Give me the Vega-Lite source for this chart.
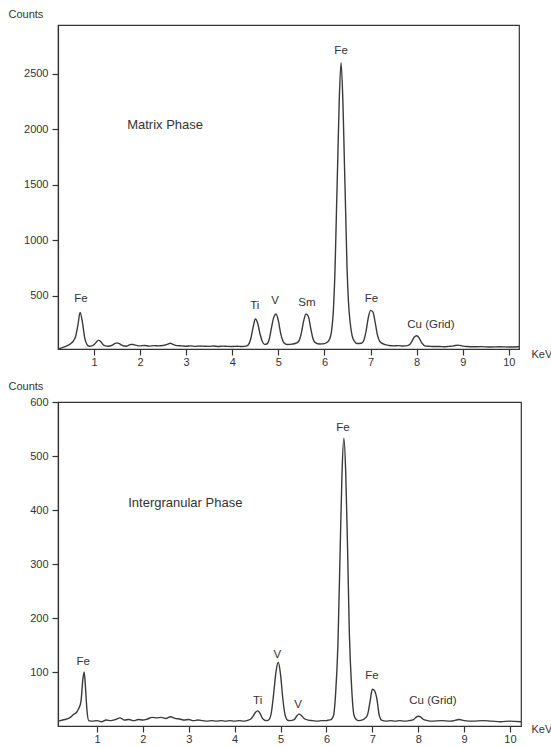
{
  "$schema": "https://vega.github.io/schema/vega-lite/v6.json",
  "background": "white",
  "padding": {"left": 7, "top": 7, "right": 0, "bottom": 0},
  "spacing": 11,
  "config": {
    "font": "Liberation Sans",
    "view": {"stroke": "#333", "strokeWidth": 1.2},
    "axis": {
      "domainColor": "#333", "tickColor": "#333", "tickSize": 6, "tickWidth": 1.2, "domainWidth": 1.2,
      "labelColor": "#333", "labelFontSize": 11, "labelFont": "Liberation Sans",
      "titleColor": "#333", "titleFontSize": 11, "titleFont": "Liberation Sans", "titleFontWeight": "normal",
      "grid": false
    }
  },
  "datasets": {
    "top": [
      {"keV":0.22,"c":22},{"keV":0.3,"c":30},{"keV":0.4,"c":45},{"keV":0.5,"c":70},{"keV":0.55,"c":90},{"keV":0.6,"c":130},{"keV":0.65,"c":230},{"keV":0.7,"c":350},{"keV":0.75,"c":260},{"keV":0.8,"c":120},{"keV":0.85,"c":60},{"keV":0.9,"c":45},{"keV":0.95,"c":48},{"keV":1.0,"c":58},{"keV":1.05,"c":82},{"keV":1.1,"c":100},{"keV":1.15,"c":85},{"keV":1.2,"c":58},{"keV":1.25,"c":48},{"keV":1.3,"c":45},{"keV":1.4,"c":55},{"keV":1.45,"c":68},{"keV":1.5,"c":75},{"keV":1.55,"c":68},{"keV":1.6,"c":55},{"keV":1.7,"c":45},{"keV":1.75,"c":52},{"keV":1.8,"c":62},{"keV":1.85,"c":60},{"keV":1.9,"c":55},{"keV":2.0,"c":48},{"keV":2.1,"c":52},{"keV":2.2,"c":46},{"keV":2.3,"c":50},{"keV":2.4,"c":48},{"keV":2.5,"c":52},{"keV":2.55,"c":56},{"keV":2.6,"c":64},{"keV":2.65,"c":72},{"keV":2.7,"c":64},{"keV":2.8,"c":50},{"keV":2.9,"c":48},{"keV":3.0,"c":45},{"keV":3.1,"c":48},{"keV":3.2,"c":44},{"keV":3.3,"c":47},{"keV":3.4,"c":45},{"keV":3.5,"c":44},{"keV":3.6,"c":47},{"keV":3.7,"c":43},{"keV":3.8,"c":46},{"keV":3.9,"c":44},{"keV":4.0,"c":43},{"keV":4.1,"c":45},{"keV":4.2,"c":42},{"keV":4.3,"c":46},{"keV":4.35,"c":58},{"keV":4.4,"c":110},{"keV":4.45,"c":210},{"keV":4.5,"c":290},{"keV":4.55,"c":255},{"keV":4.6,"c":160},{"keV":4.65,"c":90},{"keV":4.7,"c":62},{"keV":4.75,"c":65},{"keV":4.8,"c":105},{"keV":4.85,"c":210},{"keV":4.9,"c":305},{"keV":4.95,"c":335},{"keV":5.0,"c":275},{"keV":5.05,"c":160},{"keV":5.1,"c":90},{"keV":5.15,"c":66},{"keV":5.2,"c":60},{"keV":5.3,"c":64},{"keV":5.4,"c":75},{"keV":5.45,"c":95},{"keV":5.5,"c":165},{"keV":5.55,"c":275},{"keV":5.6,"c":335},{"keV":5.65,"c":315},{"keV":5.7,"c":210},{"keV":5.75,"c":115},{"keV":5.8,"c":78},{"keV":5.9,"c":65},{"keV":6.0,"c":68},{"keV":6.05,"c":78},{"keV":6.1,"c":100},{"keV":6.15,"c":170},{"keV":6.2,"c":420},{"keV":6.23,"c":750},{"keV":6.26,"c":1250},{"keV":6.29,"c":1750},{"keV":6.32,"c":2250},{"keV":6.36,"c":2600},{"keV":6.4,"c":2250},{"keV":6.43,"c":1750},{"keV":6.46,"c":1250},{"keV":6.49,"c":750},{"keV":6.52,"c":450},{"keV":6.56,"c":250},{"keV":6.6,"c":140},{"keV":6.65,"c":90},{"keV":6.7,"c":70},{"keV":6.8,"c":72},{"keV":6.85,"c":95},{"keV":6.9,"c":175},{"keV":6.95,"c":300},{"keV":7.0,"c":368},{"keV":7.05,"c":355},{"keV":7.1,"c":260},{"keV":7.15,"c":145},{"keV":7.2,"c":88},{"keV":7.3,"c":62},{"keV":7.4,"c":52},{"keV":7.5,"c":48},{"keV":7.6,"c":50},{"keV":7.7,"c":47},{"keV":7.8,"c":50},{"keV":7.85,"c":60},{"keV":7.9,"c":92},{"keV":7.95,"c":128},{"keV":8.0,"c":140},{"keV":8.05,"c":122},{"keV":8.1,"c":82},{"keV":8.15,"c":56},{"keV":8.2,"c":46},{"keV":8.3,"c":44},{"keV":8.4,"c":42},{"keV":8.5,"c":43},{"keV":8.6,"c":40},{"keV":8.7,"c":44},{"keV":8.8,"c":48},{"keV":8.9,"c":55},{"keV":9.0,"c":46},{"keV":9.1,"c":42},{"keV":9.2,"c":40},{"keV":9.4,"c":41},{"keV":9.6,"c":38},{"keV":9.8,"c":40},{"keV":10.0,"c":38},{"keV":10.22,"c":40}
    ],
    "bottom": [
      {"keV":0.15,"c":9},{"keV":0.2,"c":10},{"keV":0.3,"c":12},{"keV":0.4,"c":15},{"keV":0.5,"c":22},{"keV":0.55,"c":25},{"keV":0.6,"c":32},{"keV":0.65,"c":45},{"keV":0.69,"c":85},{"keV":0.72,"c":100},{"keV":0.75,"c":70},{"keV":0.78,"c":30},{"keV":0.82,"c":10},{"keV":0.9,"c":9},{"keV":1.0,"c":10},{"keV":1.1,"c":8},{"keV":1.2,"c":11},{"keV":1.3,"c":10},{"keV":1.4,"c":12},{"keV":1.5,"c":15},{"keV":1.6,"c":11},{"keV":1.7,"c":12},{"keV":1.8,"c":10},{"keV":1.9,"c":12},{"keV":2.0,"c":11},{"keV":2.1,"c":13},{"keV":2.2,"c":16},{"keV":2.3,"c":15},{"keV":2.4,"c":16},{"keV":2.5,"c":14},{"keV":2.6,"c":17},{"keV":2.7,"c":14},{"keV":2.8,"c":13},{"keV":2.9,"c":11},{"keV":3.0,"c":12},{"keV":3.1,"c":10},{"keV":3.2,"c":11},{"keV":3.3,"c":10},{"keV":3.4,"c":9},{"keV":3.5,"c":10},{"keV":3.6,"c":9},{"keV":3.7,"c":10},{"keV":3.8,"c":9},{"keV":3.9,"c":10},{"keV":4.0,"c":9},{"keV":4.1,"c":10},{"keV":4.2,"c":9},{"keV":4.3,"c":11},{"keV":4.35,"c":13},{"keV":4.4,"c":18},{"keV":4.45,"c":25},{"keV":4.5,"c":28},{"keV":4.55,"c":24},{"keV":4.6,"c":15},{"keV":4.65,"c":11},{"keV":4.7,"c":10},{"keV":4.75,"c":12},{"keV":4.8,"c":25},{"keV":4.85,"c":60},{"keV":4.9,"c":100},{"keV":4.95,"c":118},{"keV":5.0,"c":95},{"keV":5.05,"c":50},{"keV":5.1,"c":20},{"keV":5.15,"c":11},{"keV":5.2,"c":10},{"keV":5.3,"c":12},{"keV":5.35,"c":18},{"keV":5.4,"c":22},{"keV":5.45,"c":20},{"keV":5.5,"c":15},{"keV":5.6,"c":11},{"keV":5.7,"c":10},{"keV":5.8,"c":9},{"keV":5.9,"c":10},{"keV":6.0,"c":10},{"keV":6.05,"c":11},{"keV":6.1,"c":12},{"keV":6.15,"c":18},{"keV":6.2,"c":60},{"keV":6.25,"c":150},{"keV":6.3,"c":330},{"keV":6.34,"c":470},{"keV":6.38,"c":533},{"keV":6.42,"c":470},{"keV":6.46,"c":330},{"keV":6.5,"c":170},{"keV":6.55,"c":70},{"keV":6.6,"c":20},{"keV":6.65,"c":12},{"keV":6.7,"c":10},{"keV":6.8,"c":12},{"keV":6.85,"c":15},{"keV":6.9,"c":22},{"keV":6.95,"c":45},{"keV":7.0,"c":68},{"keV":7.05,"c":65},{"keV":7.1,"c":50},{"keV":7.15,"c":20},{"keV":7.2,"c":11},{"keV":7.3,"c":9},{"keV":7.4,"c":10},{"keV":7.5,"c":9},{"keV":7.6,"c":10},{"keV":7.7,"c":9},{"keV":7.8,"c":10},{"keV":7.9,"c":12},{"keV":7.95,"c":16},{"keV":8.0,"c":18},{"keV":8.05,"c":17},{"keV":8.1,"c":13},{"keV":8.2,"c":10},{"keV":8.3,"c":9},{"keV":8.5,"c":10},{"keV":8.7,"c":9},{"keV":8.9,"c":12},{"keV":9.0,"c":10},{"keV":9.2,"c":9},{"keV":9.4,"c":10},{"keV":9.6,"c":9},{"keV":9.8,"c":8},{"keV":10.0,"c":9},{"keV":10.24,"c":8}
    ],
    "topLabels": [
      {"keV":0.72,"c":473,"label":"Fe"},{"keV":4.49,"c":410,"label":"Ti"},{"keV":4.93,"c":455,"label":"V"},{"keV":5.62,"c":437,"label":"Sm"},{"keV":6.36,"c":2707,"label":"Fe"},{"keV":7.02,"c":473,"label":"Fe"},{"keV":8.31,"c":239,"label":"Cu (Grid)"}
    ],
    "bottomLabels": [
      {"keV":0.7,"c":118,"label":"Fe"},{"keV":4.5,"c":46,"label":"Ti"},{"keV":4.93,"c":131,"label":"V"},{"keV":5.38,"c":39,"label":"V"},{"keV":6.36,"c":552,"label":"Fe"},{"keV":6.99,"c":92,"label":"Fe"},{"keV":8.32,"c":46,"label":"Cu (Grid)"}
    ],
    "topPhase": [{"keV":1.72,"c":2040,"label":"Matrix Phase"}],
    "bottomPhase": [{"keV":1.68,"c":413,"label":"Intergranular Phase"}]
  },
  "vconcat": [
    {
      "width": 461, "height": 324,
      "encoding": {
        "x": {"field":"keV","type":"quantitative","scale":{"domain":[0.22,10.22],"nice":false,"zero":false},
              "axis":{"values":[1,2,3,4,5,6,7,8,9,10],"title":"KeV","titleX":473,"titleY":5,"titleAlign":"left","titleBaseline":"middle","titleAnchor":null,"labelPadding":1}},
        "y": {"field":"c","type":"quantitative","scale":{"domain":[20,2939],"nice":false,"zero":false},
              "axis":{"values":[500,1000,1500,2000,2500],"format":"d","title":"Counts","titleAngle":0,"titleX":-50,"titleY":-11,"titleAlign":"left","titleBaseline":"middle","titleAnchor":null,"labelPadding":4}}
      },
      "layer": [
        {"data":{"name":"top"},"mark":{"type":"line","stroke":"#3a3a3a","strokeWidth":1.4,"interpolate":"monotone"}},
        {"data":{"name":"topLabels"},"mark":{"type":"text","align":"center","baseline":"middle","fill":"#333","fontSize":11.5},"encoding":{"text":{"field":"label"}}},
        {"data":{"name":"topPhase"},"mark":{"type":"text","align":"left","baseline":"middle","fontSize":13,"fill":"#333"},"encoding":{"text":{"field":"label"}}}
      ]
    },
    {
      "width": 463, "height": 324,
      "encoding": {
        "x": {"field":"keV","type":"quantitative","scale":{"domain":[0.15,10.24],"nice":false,"zero":false},
              "axis":{"values":[1,2,3,4,5,6,7,8,9,10],"title":"KeV","titleX":473,"titleY":3,"titleAlign":"left","titleBaseline":"middle","titleAnchor":null,"labelPadding":1}},
        "y": {"field":"c","type":"quantitative","scale":{"domain":[0,600],"nice":false,"zero":false},
              "axis":{"values":[100,200,300,400,500,600],"format":"d","title":"Counts","titleAngle":0,"titleX":-50,"titleY":-16,"titleAlign":"left","titleBaseline":"middle","titleAnchor":null,"labelPadding":4}}
      },
      "layer": [
        {"data":{"name":"bottom"},"mark":{"type":"line","stroke":"#3a3a3a","strokeWidth":1.4,"interpolate":"monotone"}},
        {"data":{"name":"bottomLabels"},"mark":{"type":"text","align":"center","baseline":"middle","fill":"#333","fontSize":11.5},"encoding":{"text":{"field":"label"}}},
        {"data":{"name":"bottomPhase"},"mark":{"type":"text","align":"left","baseline":"middle","fontSize":13,"fill":"#333"},"encoding":{"text":{"field":"label"}}}
      ]
    }
  ]
}
